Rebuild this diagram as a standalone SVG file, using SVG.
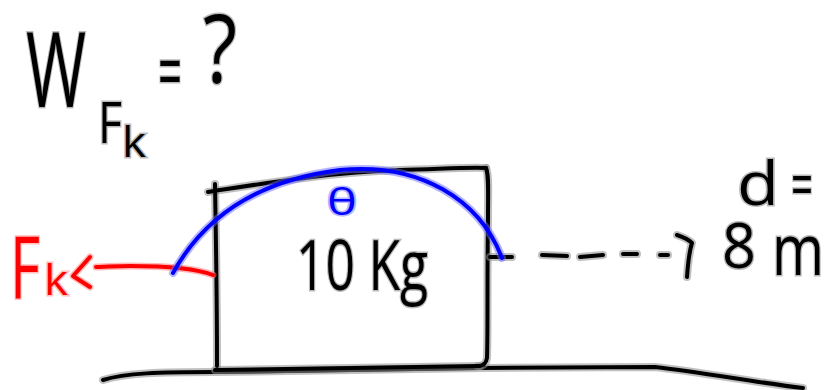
<svg xmlns="http://www.w3.org/2000/svg" xmlns:xlink="http://www.w3.org/1999/xlink" width="827" height="390" viewBox="0 0 827 390">
<style>
.halo{fill:none;stroke:#8c8c8c;stroke-opacity:.55;stroke-width:8;stroke-linecap:round;stroke-linejoin:round}
.ink{fill:none;stroke:#000;stroke-width:4;stroke-linecap:round;stroke-linejoin:round}
.red{fill:none;stroke:#ff0000;stroke-width:4;stroke-linecap:round;stroke-linejoin:round}
.redhalo{fill:none;stroke:#ff7070;stroke-opacity:.5;stroke-width:7;stroke-linecap:round;stroke-linejoin:round}
.blue{fill:none;stroke:#0000ff;stroke-width:4;stroke-linecap:round;stroke-linejoin:round}
.bluehalo{fill:none;stroke:#6a6aff;stroke-opacity:.5;stroke-width:8;stroke-linecap:round;stroke-linejoin:round}
.t{font-family:"Open Sans","Liberation Sans",sans-serif;font-weight:400;fill:#000;stroke:#8c8c8c;stroke-opacity:.6;stroke-width:3;paint-order:stroke}
.tr{font-family:"Open Sans","Liberation Sans",sans-serif;font-weight:400;fill:#ff0000;stroke:#ff8080;stroke-opacity:.5;stroke-width:3;paint-order:stroke}
.tb{font-family:"Open Sans","Liberation Sans",sans-serif;font-weight:400;fill:#0000ff;stroke:#7070ff;stroke-opacity:.5;stroke-width:3;paint-order:stroke}
</style>
<defs>
<path id="ground" d="M103,380 C125,373 160,372 215,372 L480,368 L655,367 C700,372 760,383 803,388"/>
<path id="boxTop" d="M208,192 C260,184 330,172 400,170 C440,169 470,167 486,168"/>
<path id="boxLeft" d="M215,184 C216,240 217,300 217,366"/>
<path id="boxRight" d="M486,168 C489,175 488,190 488,220 C487,280 488,330 487,358 C486,364 483,366 478,366"/>
<path id="boxBottom" d="M215,370 L480,366"/>
<path id="tick" d="M490,257 L512,257"/>
<path id="dashes" d="M542,255 L567,256 M580,257 L603,255 M623,254 L637,254 M660,255 L668,255"/>
<path id="arrowHead" d="M677,235 C683,237 688,239 692,243 C689,252 688,263 687,277"/>
</defs>
<g id="ground-line">
<use xlink:href="#ground" class="halo"/><use xlink:href="#ground" class="ink"/>
</g>
<g id="block">
<use xlink:href="#boxTop" class="halo"/><use xlink:href="#boxLeft" class="halo"/><use xlink:href="#boxRight" class="halo"/><use xlink:href="#boxBottom" class="halo"/>
<use xlink:href="#boxTop" class="ink"/><use xlink:href="#boxLeft" class="ink"/><use xlink:href="#boxRight" class="ink"/><use xlink:href="#boxBottom" class="ink"/>
<text class="t" x="296" y="290" font-size="70" font-weight="300" textLength="132" lengthAdjust="spacingAndGlyphs">10 Kg</text>
</g>
<g id="connectors">
<g id="friction-arrow">
<path class="redhalo" d="M213,275 C195,268 160,266 130,266 C115,266 105,267 96,267 M90,257 L73,276 L90,287"/>
<path class="red" d="M213,275 C195,268 160,266 130,266 C115,266 105,267 96,267 M90,257 L73,276 L90,287"/>
</g>
<g id="distance-arrow">
<use xlink:href="#tick" class="halo"/><use xlink:href="#dashes" class="halo"/><use xlink:href="#arrowHead" class="halo"/>
<use xlink:href="#tick" class="ink"/><use xlink:href="#dashes" class="ink"/><use xlink:href="#arrowHead" class="ink"/>
</g>
<g id="angle-arc">
<path class="bluehalo" d="M173,273 C205,215 260,180 340,170 C420,162 480,200 502,258"/>
<path class="blue" d="M173,273 C205,215 260,180 340,170 C420,162 480,200 502,258"/>
</g>
</g>
<g id="theta-label">
<text class="tb" x="327" y="215" font-size="37" textLength="30" lengthAdjust="spacingAndGlyphs">θ</text>
</g>
<g id="friction-label">
<text class="tr" x="10" y="298" font-size="86" font-weight="300" textLength="30" lengthAdjust="spacingAndGlyphs">F</text>
<text class="tr" x="44" y="295" font-size="42" textLength="24" lengthAdjust="spacingAndGlyphs">k</text>
</g>
<g id="work-label">
<text class="t" x="26" y="107" font-size="104" font-weight="300" textLength="60" lengthAdjust="spacingAndGlyphs">W</text>
<text class="t" x="98" y="143" font-size="56" font-weight="300" textLength="24" lengthAdjust="spacingAndGlyphs">F</text>
<text class="t" x="122" y="157" font-size="42" textLength="24" lengthAdjust="spacingAndGlyphs">k</text>
<text class="t" x="158" y="100" font-size="80" font-weight="300" textLength="24" lengthAdjust="spacingAndGlyphs">=</text>
<text class="t" x="203" y="83" font-size="96" font-weight="300" textLength="34" lengthAdjust="spacingAndGlyphs">?</text>
</g>
<g id="distance-label">
<text class="t" x="737" y="205" font-size="60" font-weight="300" textLength="42" lengthAdjust="spacingAndGlyphs">d</text>
<text class="t" x="791" y="207" font-size="64" font-weight="300" textLength="22" lengthAdjust="spacingAndGlyphs">=</text>
<text class="t" x="722" y="268" font-size="63" font-weight="300" textLength="34" lengthAdjust="spacingAndGlyphs">8</text>
<text class="t" x="772" y="275" font-size="72" font-weight="300" textLength="52" lengthAdjust="spacingAndGlyphs">m</text>
</g>
</svg>
